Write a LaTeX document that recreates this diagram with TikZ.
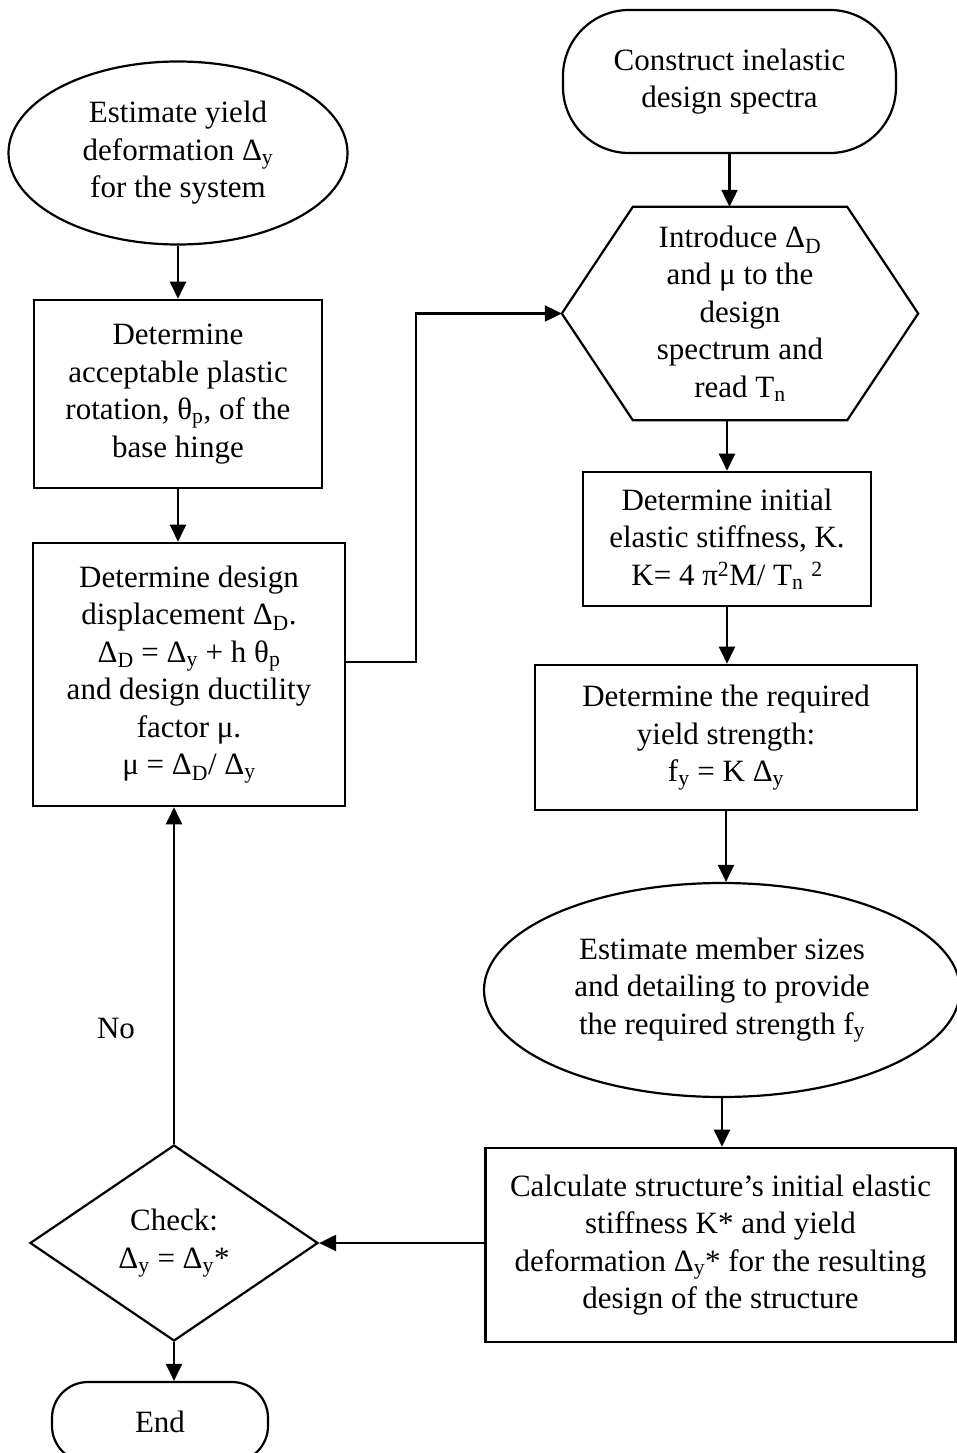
\documentclass[tikz,border=0pt]{standalone}
\usepackage{fontspec}
\setmainfont{Liberation Serif}
\usetikzlibrary{shapes.geometric,arrows.meta,calc}
\begin{document}
\begin{tikzpicture}[x=1pt,y=-1pt,
  every node/.style={font=\fontsize{31}{37.5}\selectfont, align=center, inner sep=0pt},
  box/.style={draw, line width=2.6pt, rectangle},
  oval/.style={draw, line width=2.2pt, ellipse},
  term/.style={draw, line width=2.2pt, rectangle, rounded corners=66pt},
  conn/.style={line width=2.2pt},
  arr/.style={conn, -{Triangle[length=17pt,width=16pt]}},
]
\useasboundingbox (0,0) rectangle (957,1453);

% left column
\node[oval, minimum width=339pt, minimum height=183pt] (est) at (178,153)
  {Estimate yield\\deformation Δ\textsubscript{y}\\for the system};
\node[box, minimum width=288pt, minimum height=188pt] (plast) at (178,394)
  {Determine\\acceptable plastic\\rotation, θ\textsubscript{p}, of the\\base hinge};
\node[box, minimum width=312pt, minimum height=263pt] (disp) at (189,674.5)
  {Determine design\\displacement Δ\textsubscript{D}.\\Δ\textsubscript{D} = Δ\textsubscript{y} + h θ\textsubscript{p}\\and design ductility\\factor μ.\\μ = Δ\textsubscript{D}/ Δ\textsubscript{y}};
\node[draw, line width=2.2pt, diamond, minimum width=288pt, minimum height=196pt] (check) at (174,1243)
  {Check:\\Δ\textsubscript{y} = Δ\textsubscript{y}*};
\node[term, rounded corners=36pt, minimum width=216pt, minimum height=80pt] (fin) at (160,1422) {End};
\node (no) at (116,1028) {No};

% right column
\node[term, minimum width=333pt, minimum height=143pt] (spec) at (729.5,81.5)
  {Construct inelastic\\design spectra};
\node[minimum width=356pt, minimum height=213pt] (hex) at (740,313.5)
  {Introduce Δ\textsubscript{D}\\and μ to the\\design\\spectrum and\\read T\textsubscript{n}};
\draw[conn, line join=miter] (hex.west) -- ($(hex.north west)+(71,0)$) -- ($(hex.north east)+(-71,0)$)
  -- (hex.east) -- ($(hex.south east)+(-71,0)$) -- ($(hex.south west)+(71,0)$) -- cycle;
\node[box, minimum width=288pt, minimum height=134pt] (stiff) at (727,539)
  {Determine initial\\elastic stiffness, K.\\K= 4 π\textsuperscript{2}M/ T\textsubscript{n} \textsuperscript{2}};
\node[box, minimum width=382pt, minimum height=145pt] (req) at (726,737.5)
  {Determine the required\\yield strength:\\f\textsubscript{y} = K Δ\textsubscript{y}};
\node[oval, minimum width=476pt, minimum height=214pt] (size) at (722,990)
  {Estimate member sizes\\and detailing to provide\\the required strength f\textsubscript{y}};
\node[box, minimum width=470pt, minimum height=194pt] (calc) at (720.5,1245)
  {Calculate structure’s initial elastic\\stiffness K* and yield\\deformation Δ\textsubscript{y}* for the resulting\\design of the structure};

% connectors
\draw[arr] (est.south) -- (est.south |- plast.north);
\draw[arr] (plast.south) -- (plast.south |- disp.north);
\coordinate (bend) at (416,662);
\draw[arr] (disp.east |- bend) -- (bend) |- (hex.west);
\draw[arr] (spec.south) -- (spec.south |- hex.north);
\draw[arr] (hex.south -| stiff.north) -- (stiff.north);
\draw[arr] (stiff.south) -- (stiff.south |- req.north);
\draw[arr] (req.south) -- (req.south |- size.north);
\draw[arr] (size.south) -- (size.south |- calc.north);
\draw[arr] (calc.west |- check.east) -- (check.east);
\draw[arr] (check.south) -- (check.south |- fin.north);
\draw[arr] (check.north) -- (check.north |- disp.south);
\end{tikzpicture}
\end{document}
